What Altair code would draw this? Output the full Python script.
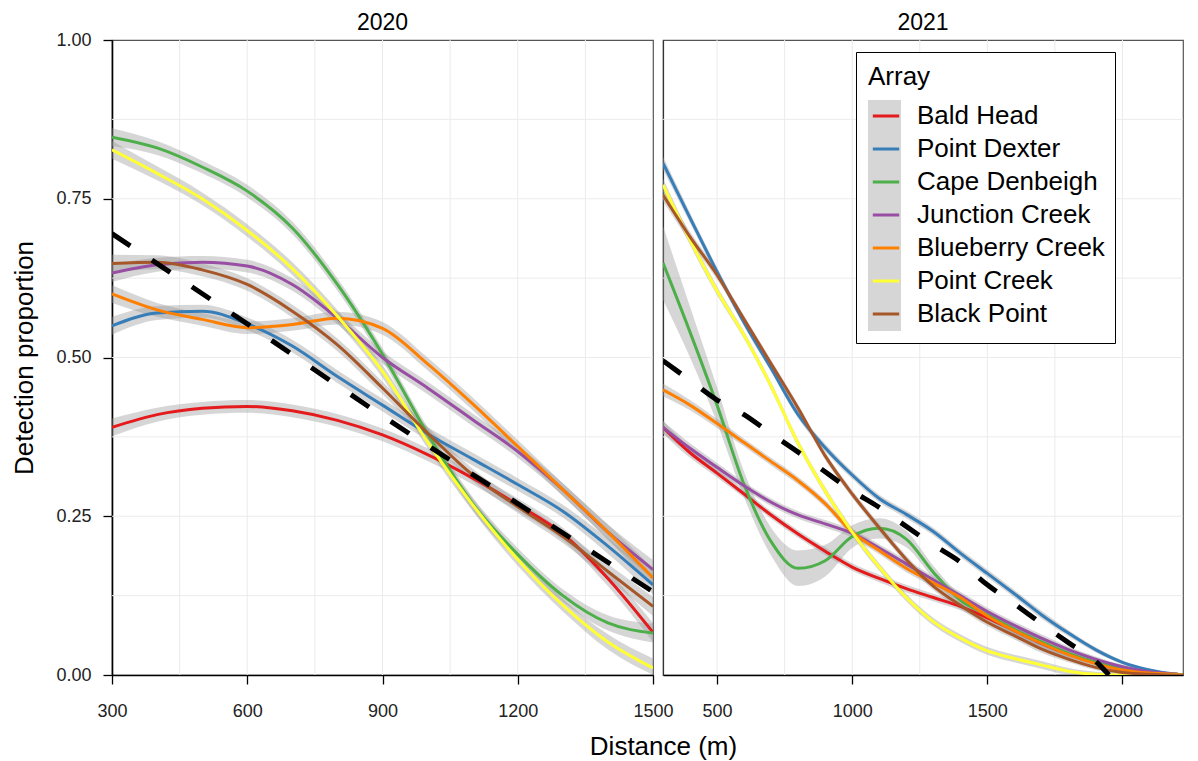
import altair as alt
import pandas as pd

FONT = "Liberation Sans"

ARRAYS = ["Bald Head", "Point Dexter", "Cape Denbeigh", "Junction Creek",
          "Blueberry Creek", "Point Creek", "Black Point"]
COLORS = ["#E41A1C", "#377EB8", "#4DAF4A", "#984EA3", "#FF7F00", "#FFFF33", "#A65628"]

# ---------------- 2020 ----------------
X_2020 = [300, 400, 500, 600, 700, 800, 900, 1000, 1100, 1200, 1300, 1400, 1500]
Y_2020 = {
    "Bald Head":       [0.390, 0.410, 0.420, 0.423, 0.416, 0.401, 0.378, 0.347, 0.310, 0.268, 0.222, 0.152, 0.067],
    "Point Dexter":    [0.550, 0.570, 0.573, 0.553, 0.518, 0.470, 0.425, 0.380, 0.340, 0.300, 0.258, 0.203, 0.142],
    "Cape Denbeigh":   [0.847, 0.830, 0.800, 0.762, 0.704, 0.615, 0.505, 0.380, 0.270, 0.190, 0.125, 0.082, 0.066],
    "Junction Creek":  [0.633, 0.646, 0.650, 0.644, 0.615, 0.562, 0.500, 0.452, 0.402, 0.352, 0.292, 0.225, 0.166],
    "Blueberry Creek": [0.600, 0.575, 0.560, 0.547, 0.552, 0.562, 0.546, 0.490, 0.427, 0.360, 0.292, 0.225, 0.153],
    "Point Creek":     [0.827, 0.790, 0.750, 0.700, 0.640, 0.565, 0.478, 0.367, 0.268, 0.182, 0.110, 0.052, 0.011],
    "Black Point":     [0.648, 0.650, 0.638, 0.615, 0.573, 0.520, 0.452, 0.381, 0.315, 0.265, 0.218, 0.163, 0.108],
}
HW_2020 = [0.014, 0.011, 0.010, 0.010, 0.010, 0.010, 0.010, 0.010, 0.010, 0.010, 0.010, 0.012, 0.015]
DASH_X_2020 = [300, 600, 900, 1200, 1500]
DASH_Y_2020 = [0.695, 0.553, 0.408, 0.270, 0.131]

# ---------------- 2021 ----------------
X_2021 = [300, 400, 500, 600, 700, 800, 900, 1000, 1100, 1200, 1300,
          1400, 1500, 1600, 1700, 1800, 1900, 2000, 2100, 2200, 2225]
Y_2021 = {
    "Bald Head":       [0.390, 0.350, 0.318, 0.285, 0.252, 0.222, 0.195, 0.170, 0.152, 0.136, 0.122,
                        0.108, 0.090, 0.070, 0.050, 0.033, 0.020, 0.010, 0.003, 0.001, 0.000],
    "Point Dexter":    [0.806, 0.720, 0.635, 0.555, 0.483, 0.410, 0.358, 0.315, 0.278, 0.253, 0.226,
                        0.192, 0.160, 0.128, 0.095, 0.066, 0.040, 0.020, 0.008, 0.001, 0.000],
    "Cape Denbeigh":   [0.649, 0.540, 0.425, 0.300, 0.210, 0.168, 0.180, 0.218, 0.231, 0.214, 0.162,
                        0.118, 0.095, 0.072, 0.052, 0.034, 0.020, 0.010, 0.003, 0.001, 0.000],
    "Junction Creek":  [0.390, 0.357, 0.327, 0.298, 0.272, 0.252, 0.238, 0.223, 0.200, 0.175, 0.150,
                        0.125, 0.100, 0.078, 0.058, 0.040, 0.025, 0.013, 0.005, 0.001, 0.000],
    "Blueberry Creek": [0.449, 0.425, 0.396, 0.366, 0.336, 0.306, 0.270, 0.225, 0.196, 0.168, 0.145,
                        0.122, 0.093, 0.070, 0.050, 0.032, 0.018, 0.008, 0.003, 0.001, 0.000],
    "Point Creek":     [0.772, 0.685, 0.605, 0.535, 0.455, 0.365, 0.290, 0.225, 0.170, 0.122, 0.084,
                        0.058, 0.038, 0.026, 0.016, 0.006, 0.001, 0.000, 0.000, 0.000, 0.000],
    "Black Point":     [0.756, 0.690, 0.630, 0.560, 0.490, 0.420, 0.345, 0.285, 0.232, 0.182, 0.140,
                        0.110, 0.083, 0.062, 0.041, 0.025, 0.012, 0.004, 0.001, 0.000, 0.000],
}
HW_2021 = [0.010, 0.008, 0.007, 0.006, 0.006, 0.006, 0.006, 0.006, 0.006, 0.006, 0.006,
           0.006, 0.006, 0.006, 0.006, 0.005, 0.004, 0.003, 0.002, 0.001, 0.000]
HW_2021_CAPE = [0.058, 0.040, 0.028, 0.020, 0.022, 0.028, 0.025, 0.018, 0.016, 0.013, 0.010,
                0.008, 0.007, 0.006, 0.006, 0.005, 0.004, 0.003, 0.002, 0.001, 0.000]
DASH_X_2021 = [300, 400, 500, 600, 700, 800, 900, 1000, 1100, 1200, 1300, 1400,
               1500, 1600, 1700, 1800, 1900, 1950]
DASH_Y_2021 = [0.495, 0.464, 0.433, 0.410, 0.380, 0.351, 0.320, 0.290, 0.264, 0.234, 0.205, 0.178,
               0.142, 0.112, 0.081, 0.051, 0.022, 0.000]

Y_TICKS = [0.0, 0.25, 0.5, 0.75, 1.0]
Y_GRID = [0.125, 0.25, 0.375, 0.5, 0.625, 0.75, 0.875]
X_TICKS_2020 = [300, 600, 900, 1200, 1500]
X_GRID_2020 = [450, 600, 750, 900, 1050, 1200, 1350]
X_TICKS_2021 = [500, 1000, 1500, 2000]
X_GRID_2021 = [500, 750, 1000, 1250, 1500, 1750, 2000]


def long_df(xs, ydict, hw_default, hw_special):
    rows = []
    for name in ARRAYS:
        hws = hw_special.get(name, hw_default)
        for x, y, h in zip(xs, ydict[name], hws):
            rows.append({"Distance": x, "Proportion": y,
                         "lo": max(0.0, y - h), "hi": min(1.0, y + h),
                         "Array": name, "Band": name})
    return pd.DataFrame(rows)


df20 = long_df(X_2020, Y_2020, HW_2020, {})
df21 = long_df(X_2021, Y_2021, HW_2021, {"Cape Denbeigh": HW_2021_CAPE})
dash20 = pd.DataFrame({"Distance": DASH_X_2020, "Proportion": DASH_Y_2020})
dash21 = pd.DataFrame({"Distance": DASH_X_2021, "Proportion": DASH_Y_2021})

GRID = "#ebebeb"
LEG_COMMON = dict(
    orient="none", legendX=193, symbolSize=1089, padding=12,
    labelFont=FONT, labelFontSize=26, labelLimit=400,
    titleFont=FONT, titleFontSize=26, titleFontWeight="normal", titlePadding=10,
)


def panel(df, dash, xdomain, xticks, xgrid, title, width, left):
    xscale = alt.Scale(domain=xdomain, nice=False, zero=False)
    yscale = alt.Scale(domain=[0, 1], nice=False, zero=False)
    xaxis = alt.Axis(
        values=xticks, format="d", title="Distance (m)" if left else None, grid=False,
        labelFlush=False, labelOverlap=False, labelFont=FONT, labelFontSize=18,
        labelColor="#222222", labelPadding=18, tickSize=9, tickColor="black",
        tickWidth=1.3, domainColor="black", domainWidth=1.6,
        titleFont=FONT, titleFontSize=26, titleFontWeight="normal",
        titleColor="black", titlePadding=13, titleX=551 if left else 0,
    )
    if left:
        yaxis = alt.Axis(
            values=Y_TICKS, format=".2f", title="Detection proportion", grid=False,
            labelFont=FONT, labelFontSize=18, labelColor="#222222", labelPadding=12,
            tickSize=9, tickColor="black", tickWidth=1.3, domainColor="black",
            domainWidth=1.6, titleFont=FONT, titleFontSize=26,
            titleFontWeight="normal", titleColor="black", titlePadding=18,
        )
    else:
        yaxis = alt.Axis(values=Y_TICKS, labels=False, ticks=False, title=None,
                         grid=False, domainColor="#333333", domainWidth=1.2)

    gx = alt.Chart(pd.DataFrame({"Distance": xgrid})).mark_rule(
        color=GRID, strokeWidth=1).encode(
        x=alt.X("Distance:Q", scale=xscale, axis=xaxis))
    gy = alt.Chart(pd.DataFrame({"Proportion": Y_GRID})).mark_rule(
        color=GRID, strokeWidth=1).encode(
        y=alt.Y("Proportion:Q", scale=yscale, axis=yaxis))

    if left:
        leg_fill = None
        leg_stroke = None
    else:
        # boxed legend with title and grey ribbon keys (labels left blank)
        leg_fill = alt.Legend(
            title="Array", legendY=12, symbolType="square", symbolStrokeWidth=0,
            symbolStrokeColor="transparent", symbolOpacity=0.4, rowPadding=0,
            labelExpr="''", labelOffset=202, titleColor="black",
            fillColor="white", strokeColor="black", zindex=0, **LEG_COMMON)
        # coloured line keys and the array names drawn on top of it
        leg_stroke = alt.Legend(
            title=None, legendY=46, symbolType="M-0.8,0H0.8", symbolStrokeWidth=3,
            rowPadding=2, labelOffset=13, labelColor="black", zindex=1, **LEG_COMMON)

    band = alt.Chart(df).mark_area(
        opacity=0.4, interpolate="monotone", clip=True).encode(
        x=alt.X("Distance:Q", scale=xscale, axis=xaxis),
        y=alt.Y("lo:Q", scale=yscale, axis=yaxis),
        y2="hi:Q",
        fill=alt.Fill("Band:N", scale=alt.Scale(range=["#999999"]),
                      legend=leg_fill),
    )
    lines = alt.Chart(df).mark_line(
        strokeWidth=3, interpolate="monotone", clip=True).encode(
        x=alt.X("Distance:Q", scale=xscale, axis=xaxis),
        y=alt.Y("Proportion:Q", scale=yscale, axis=yaxis),
        stroke=alt.Stroke("Array:N", scale=alt.Scale(domain=ARRAYS, range=COLORS),
                          legend=leg_stroke),
    )
    dashed = alt.Chart(dash).mark_line(
        color="black", strokeWidth=5, strokeDash=[22, 26], strokeCap="butt",
        interpolate="monotone", clip=True).encode(
        x=alt.X("Distance:Q", scale=xscale, axis=xaxis),
        y=alt.Y("Proportion:Q", scale=yscale, axis=yaxis),
    )
    return alt.layer(gx, gy, band, lines, dashed).properties(
        width=width, height=635,
        title=alt.TitleParams(text=title, fontSize=23, font=FONT,
                              fontWeight="normal", color="black",
                              offset=-4 if left else 5, anchor="middle"),
    )


left = panel(df20, dash20, [300, 1500], X_TICKS_2020, X_GRID_2020, "2020", 541, True)
right = panel(df21, dash21, [300, 2224], X_TICKS_2021, X_GRID_2021, "2021", 520, False)

chart = alt.hconcat(left, right, spacing=10, bounds="flush").resolve_scale(
    stroke="independent", fill="independent"
).properties(
    padding={"left": 3, "top": 2, "right": 5, "bottom": 0}
).configure_view(
    stroke="#555555", strokeWidth=1.2
)

chart.save("out.html", embed_options={"renderer": "svg", "actions": False})
